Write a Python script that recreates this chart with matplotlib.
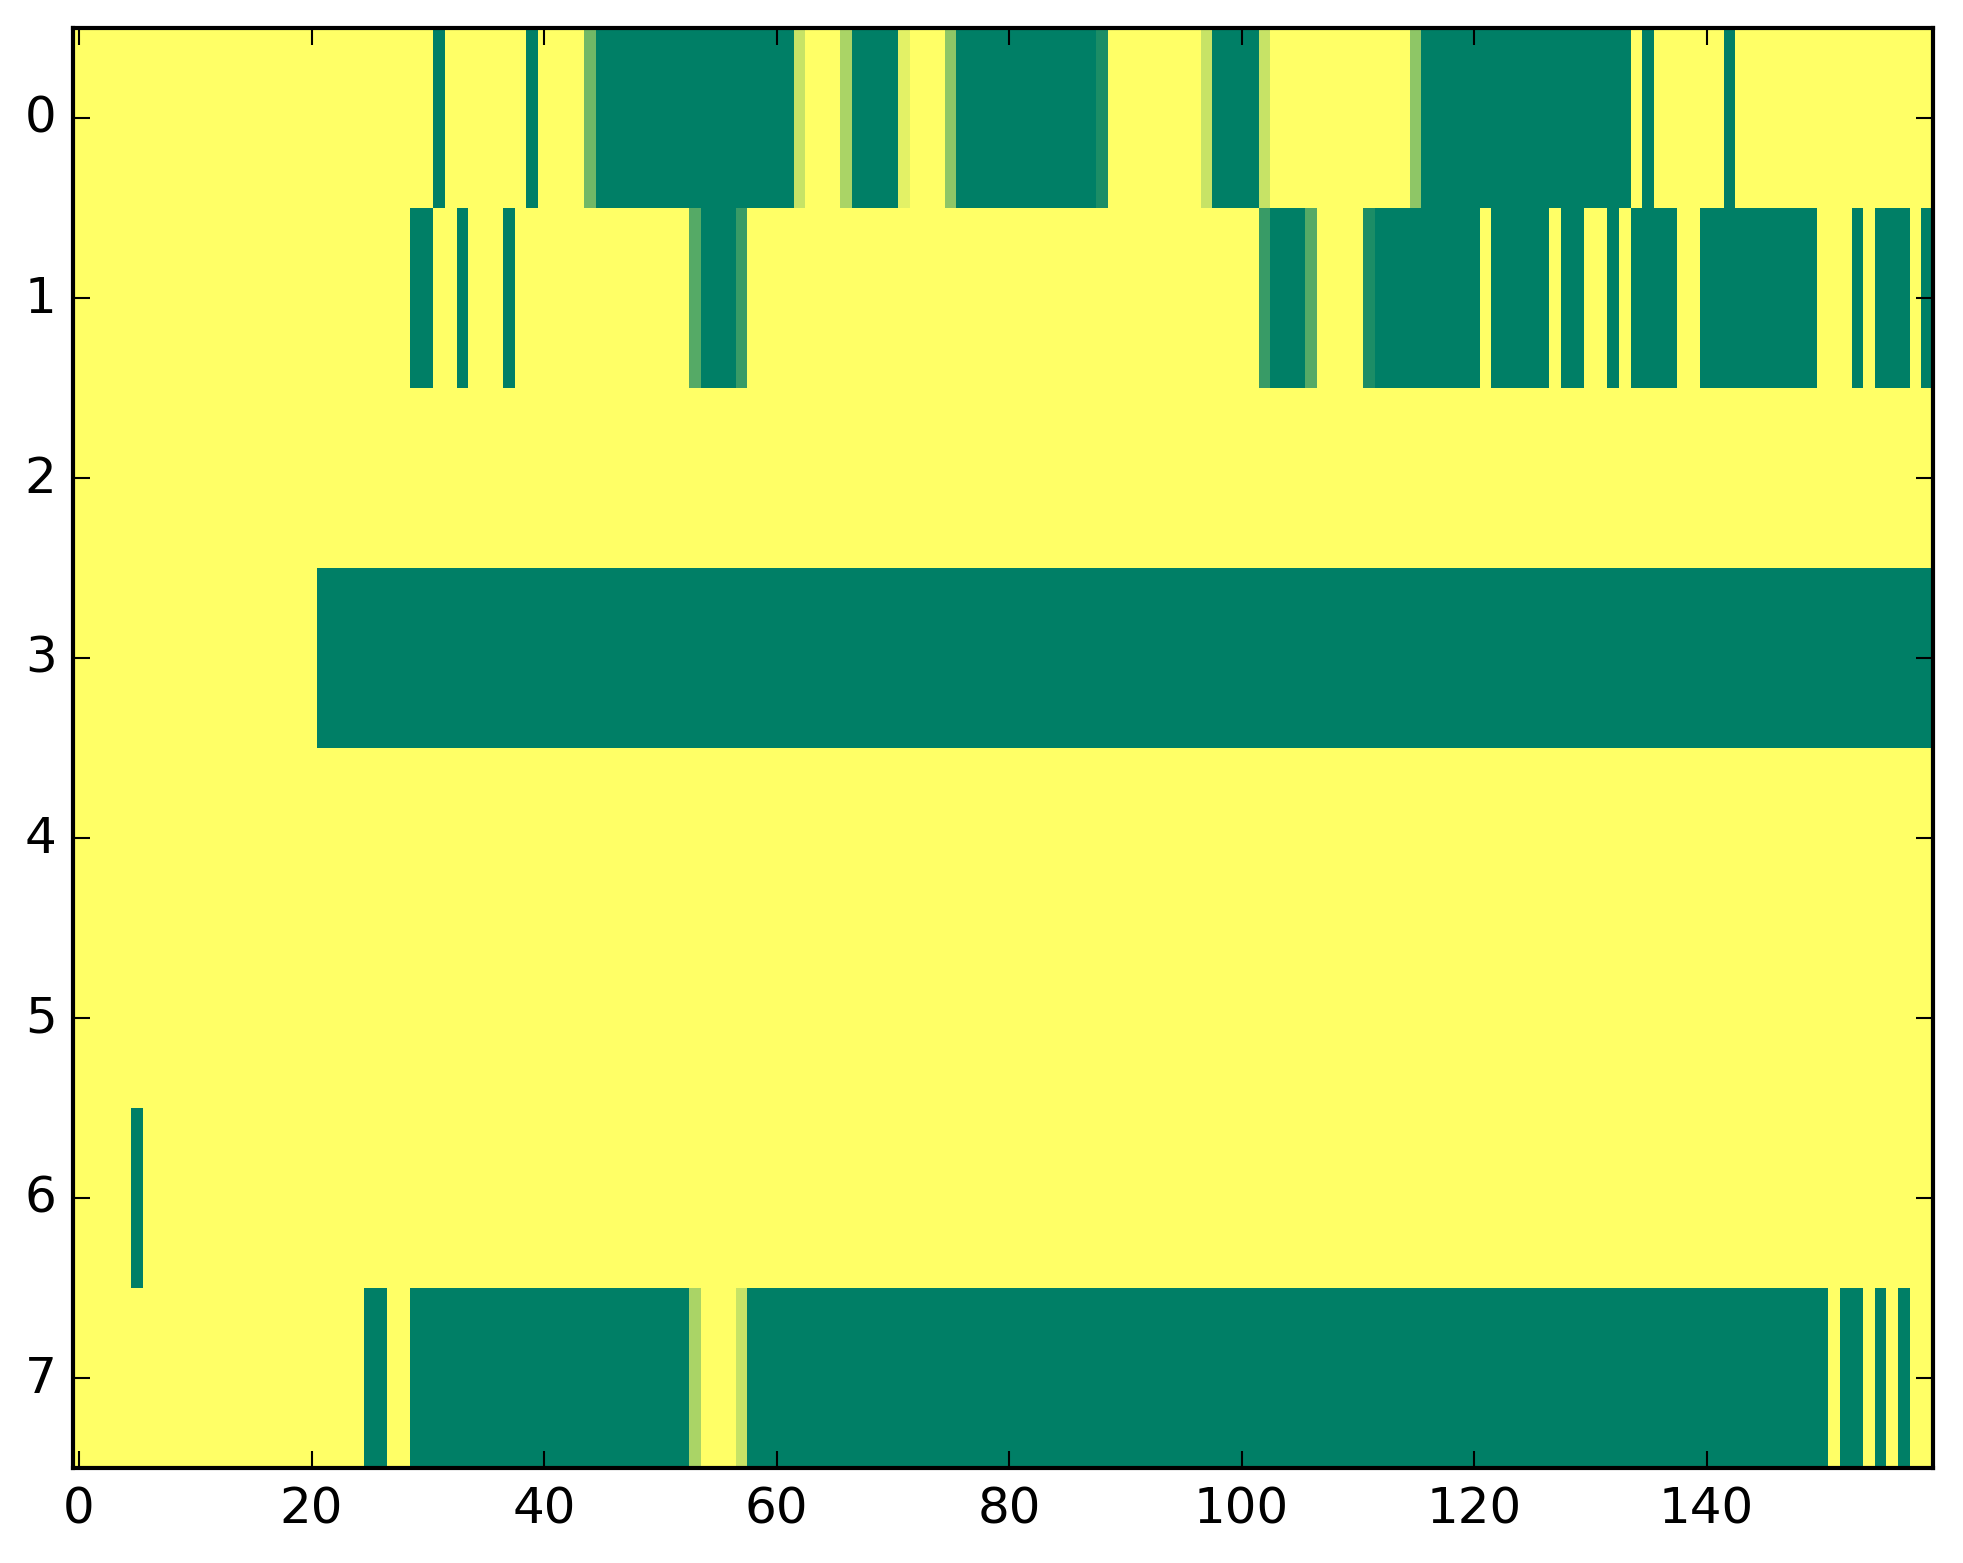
import numpy as np
import matplotlib
matplotlib.use("Agg")
import matplotlib.pyplot as plt

# each row is 160 cells, written in blocks of 10; digit k means value k/9
row0 = ["0000000000", "0000000000", "0000000000", "0900000009",
        "0000599999", "9999999999", "9920003999", "9100049999",
        "9999999980", "0000000299", "9920000000", "0000049999",
        "9999999999", "9999090000", "0090000000", "0000000000"]
row1 = ["0000000000", "0000000000", "0000000009", "9009000900",
        "0000000000", "0006999700", "0000000000", "0000000000",
        "0000000000", "0000000000", "0079996000", "0899999999",
        "9099999099", "0090999900", "9999999999", "0009099909"]
row2 = ["0000000000"] * 16
row3 = ["0000000000", "0000000000", "0999999999"] + ["9999999999"] * 13
row4 = ["0000000000"] * 16
row5 = ["0000000000"] * 16
row6 = ["0000090000"] + ["0000000000"] * 15
row7 = ["0000000000", "0000000000", "0000099009", "9999999999",
        "9999999999", "9993000299", "9999999999", "9999999999",
        "9999999999", "9999999999", "9999999999", "9999999999",
        "9999999999", "9999999999", "9999999999", "9099090900"]

rows = [row0, row1, row2, row3, row4, row5, row6, row7]
data = np.array([[int(c) for c in "".join(r)] for r in rows]) / 9.0

plt.style.use('classic')
W, H = 1963, 1564
fig = plt.figure(figsize=(W / 300, H / 300), dpi=300)
fig.patch.set_facecolor('white')
ax = fig.add_axes([73.2 / W, 95.3 / H, 1860 / W, 1440 / H])
ax.imshow(data, cmap='summer_r', vmin=0, vmax=1, aspect='auto',
          interpolation='nearest')

plt.savefig('out.png', dpi=300, facecolor='white')
